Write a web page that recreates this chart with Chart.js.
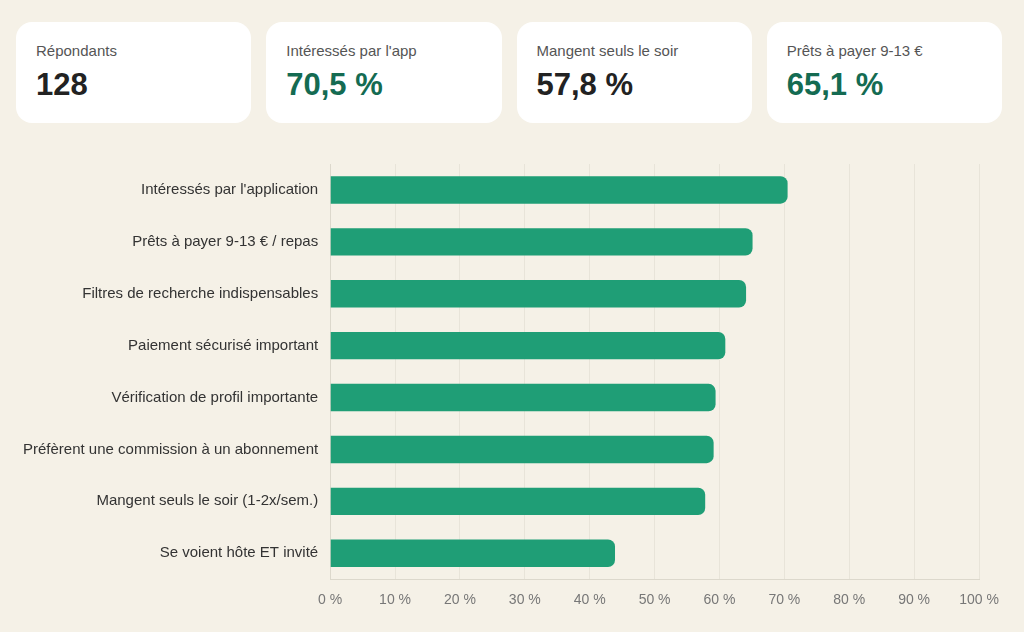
<!DOCTYPE html>
<html lang="fr">
<head>
<meta charset="utf-8">
<script src="https://cdn.jsdelivr.net/npm/chart.js@4.4.1/dist/chart.umd.min.js"></script>
<style>
  html, body { margin: 0; padding: 0; }
  body {
    width: 1024px; height: 632px; overflow: hidden;
    background: #f5f1e7;
    font-family: "Liberation Sans", Arial, sans-serif;
    position: relative;
  }
  .kpis { position: absolute; top: 22px; left: 16px; right: 22px; display: flex; gap: 15px; }
  .kpi {
    flex: 1; height: 101px; background: #fff; border-radius: 16px;
    box-sizing: border-box; padding: 20px 20px;
  }
  .kpi .lbl { font-size: 15px; color: #555; line-height: 18px; }
  .kpi .val { font-size: 31px; font-weight: bold; color: #222; margin-top: 7px; line-height: 36px; }
  .kpi .val.green { color: #146b52; }
  .chart-box { position: absolute; top: 143px; left: 0; width: 1024px; height: 489px; }
</style>
</head>
<body>
<div class="kpis">
  <div class="kpi"><div class="lbl">Répondants</div><div class="val" id="k0"></div></div>
  <div class="kpi"><div class="lbl">Intéressés par l'app</div><div class="val green" id="k1"></div></div>
  <div class="kpi"><div class="lbl">Mangent seuls le soir</div><div class="val" id="k2"></div></div>
  <div class="kpi"><div class="lbl">Prêts à payer 9-13 €</div><div class="val green" id="k3"></div></div>
</div>
<div class="chart-box"><canvas id="surveyChart"></canvas></div>
<script>
// chiffres clés
const kpiValues = ["128", "70,5 %", "57,8 %", "65,1 %"];

// résultats du sondage (%)
const categories = [
  "Intéressés par l'application",
  "Prêts à payer 9-13 € / repas",
  "Filtres de recherche indispensables",
  "Paiement sécurisé important",
  "Vérification de profil importante",
  "Préfèrent une commission à un abonnement",
  "Mangent seuls le soir (1-2x/sem.)",
  "Se voient hôte ET invité"
];
const percentages = [70.5, 65.1, 64.1, 60.9, 59.4, 59.1, 57.8, 43.9];
const xTicks = [0, 10, 20, 30, 40, 50, 60, 70, 80, 90, 100];

kpiValues.forEach((v, i) => { document.getElementById("k" + i).textContent = v; });

document.addEventListener("DOMContentLoaded", function() {
    const ctx = document.getElementById("surveyChart").getContext("2d");
    new Chart(ctx, {
        type: "bar",
        data: {
            labels: categories,
            datasets: [{
                data: percentages,
                backgroundColor: "#1f9e76",
                borderRadius: 7,
                borderSkipped: "start",
                categoryPercentage: 0.66,
                barPercentage: 0.8
            }]
        },
        options: {
            indexAxis: "y",
            responsive: true,
            maintainAspectRatio: false,
            animation: false,
            layout: { padding: { left: 11, right: 45, top: 1, bottom: 10 } },
            plugins: { legend: { display: false }, tooltip: { enabled: false } },
            scales: {
                x: {
                    min: 0,
                    max: 100,
                    afterBuildTicks: axis => { axis.ticks = xTicks.map(v => ({ value: v })); },
                    grid: { color: "#e8e4d9", drawTicks: false },
                    border: { color: "#dcd8cc" },
                    ticks: {
                        padding: 13,
                        color: "#777",
                        font: { family: "Liberation Sans", size: 14 },
                        callback: v => v + " %"
                    }
                },
                y: {
                    grid: { display: false, drawTicks: false },
                    border: { color: "#dcd8cc" },
                    ticks: {
                        padding: 12,
                        color: "#333",
                        font: { family: "Liberation Sans", size: 15 }
                    }
                }
            }
        }
    });
});
</script>
</body>
</html>
